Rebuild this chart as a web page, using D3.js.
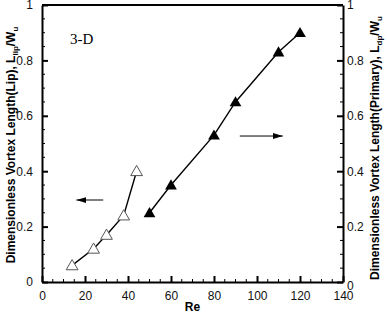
<!DOCTYPE html>
<html>
<head>
<meta charset="utf-8">
<script src="https://d3js.org/d3.v7.min.js"></script>
<style>
  body { margin: 0; background: #fff; }
  text { font-family: "Liberation Sans", Arial, sans-serif; }
  .axis path { stroke: #000; stroke-width: 2; }
  .axis line { stroke: #000; }
  .axis text { font-size: 12px; fill: #111; }
</style>
</head>
<body>
<svg id="chart" width="387" height="315"></svg>
<script>
// lip vortex (open triangles, left axis)
var lipRe = [14, 24, 30, 38, 44];
var lipLen = [0.06, 0.12, 0.17, 0.24, 0.40];
// primary vortex (filled triangles, right axis)
var priRe = [50, 60, 80, 90, 110, 120];
var priLen = [0.25, 0.35, 0.53, 0.65, 0.83, 0.90];

var xTicks = [0, 20, 40, 60, 80, 100, 120, 140];
var yTicks = [0, 0.2, 0.4, 0.6, 0.8, 1];

var svg = d3.select("#chart");
var pL = 42, pR = 343, pT = 5, pB = 282;

var x = d3.scaleLinear().domain([0, 140]).range([pL, pR]);
var yL = d3.scaleLinear().domain([0, 1]).range([pB, pT]);
var yR = d3.scaleLinear().domain([0, 1]).range([pB, pT]);

var fmt = function(d) { return d3.format("~g")(d); };

// minor ticks
var minorX = d3.range(0, 141, 5).filter(function(d) { return d % 20 !== 0; });
var minorY = d3.range(0, 1.001, 0.05).filter(function(d) { return Math.abs(d * 5 - Math.round(d * 5)) > 1e-6; });

var g = svg.append("g");
g.selectAll(".mx").data(minorX).enter().append("line")
  .attr("x1", function(d) { return x(d); }).attr("x2", function(d) { return x(d); })
  .attr("y1", pB).attr("y2", pB - 3).attr("stroke", "#000");
g.selectAll(".myl").data(minorY).enter().append("line")
  .attr("x1", pL).attr("x2", pL + 3)
  .attr("y1", function(d) { return yL(d); }).attr("y2", function(d) { return yL(d); })
  .attr("stroke", "#000");
g.selectAll(".myr").data(minorY).enter().append("line")
  .attr("x1", pR).attr("x2", pR - 3)
  .attr("y1", function(d) { return yR(d); }).attr("y2", function(d) { return yR(d); })
  .attr("stroke", "#000");

// top border
svg.append("line").attr("x1", pL).attr("x2", pR).attr("y1", pT).attr("y2", pT)
  .attr("stroke", "#000").attr("stroke-width", 2);

svg.append("g").attr("class", "axis")
  .attr("transform", "translate(0," + pB + ")")
  .call(d3.axisBottom(x).tickValues(xTicks).tickFormat(fmt).tickSizeInner(-6).tickSizeOuter(0).tickPadding(9))
  .selectAll("line").attr("stroke-width", 2);

svg.append("g").attr("class", "axis")
  .attr("transform", "translate(" + pL + ",0)")
  .call(d3.axisLeft(yL).tickValues(yTicks).tickFormat(fmt).tickSizeInner(-6).tickSizeOuter(0).tickPadding(9))
  .selectAll("line").attr("stroke-width", 2);

var axR = svg.append("g").attr("class", "axis")
  .attr("transform", "translate(" + pR + ",0)")
  .call(d3.axisRight(yR).tickValues(yTicks).tickFormat(fmt).tickSizeInner(-6).tickSizeOuter(0).tickPadding(4));
axR.selectAll("line").attr("stroke-width", 2);
axR.selectAll("text").filter(function(d) { return d === 0; }).attr("dy", "0.6em");

// lines
var lipData = lipRe.map(function(d, i) { return [d, lipLen[i]]; });
var priData = priRe.map(function(d, i) { return [d, priLen[i]]; });

var lineL = d3.line().x(function(d) { return x(d[0]); }).y(function(d) { return yL(d[1]); });
var lineR = d3.line().x(function(d) { return x(d[0]); }).y(function(d) { return yR(d[1]); });

svg.append("path").datum(lipData).attr("d", lineL)
  .attr("fill", "none").attr("stroke", "#000").attr("stroke-width", 1.4);
svg.append("path").datum(priData).attr("d", lineR)
  .attr("fill", "none").attr("stroke", "#000").attr("stroke-width", 1.4);

var tri = d3.symbol().type(d3.symbolTriangle).size(60);

svg.selectAll(".lip").data(lipData).enter().append("path")
  .attr("d", tri)
  .attr("transform", function(d) { return "translate(" + x(d[0]) + "," + (yL(d[1]) + 1) + ")"; })
  .attr("fill", "#fff").attr("stroke", "#555").attr("stroke-width", 1);

svg.selectAll(".pri").data(priData).enter().append("path")
  .attr("d", tri)
  .attr("transform", function(d) { return "translate(" + x(d[0]) + "," + (yR(d[1]) + 1) + ")"; })
  .attr("fill", "#000");

// arrows
var defs = svg.append("defs");
defs.append("marker").attr("id", "ah").attr("viewBox", "0 0 10 6")
  .attr("refX", 10).attr("refY", 3).attr("markerWidth", 10).attr("markerHeight", 6)
  .attr("markerUnits", "userSpaceOnUse").attr("orient", "auto")
  .append("path").attr("d", "M0,0L10,3L0,6Z").attr("fill", "#000");

svg.append("line").attr("x1", x(28.5)).attr("x2", x(16)).attr("y1", yL(0.296)).attr("y2", yL(0.296))
  .attr("stroke", "#000").attr("stroke-width", 1).attr("marker-end", "url(#ah)");
svg.append("line").attr("x1", x(92)).attr("x2", x(112)).attr("y1", yR(0.527)).attr("y2", yR(0.527))
  .attr("stroke", "#000").attr("stroke-width", 1).attr("marker-end", "url(#ah)");

// label
svg.append("text").attr("x", x(13)).attr("y", yL(0.86))
  .style("font-family", "'Liberation Serif', 'Times New Roman', serif").style("font-size", "15px")
  .text("3-D");

// axis titles
svg.append("text").attr("x", (pL + pR) / 2).attr("y", 311)
  .attr("text-anchor", "middle").style("font-weight", "bold").style("font-size", "12px").text("Re");

var tl = svg.append("text").attr("transform", "translate(15," + 145 + ") rotate(-90)")
  .attr("text-anchor", "middle").style("font-weight", "bold").style("font-size", "12px");
tl.append("tspan").text("Dimensionless Vortex Length(Lip), L");
tl.append("tspan").attr("dy", 3).style("font-size", "8px").text("lip");
tl.append("tspan").attr("dy", -3).text("/W");
tl.append("tspan").attr("dy", 3).style("font-size", "8px").text("u");

var tr = svg.append("text").attr("transform", "translate(379," + 148 + ") rotate(-90)")
  .attr("text-anchor", "middle").style("font-weight", "bold").style("font-size", "12px");
tr.append("tspan").text("Dimensionless Vortex Length(Primary), L");
tr.append("tspan").attr("dy", 3).style("font-size", "8px").text("dp");
tr.append("tspan").attr("dy", -3).text("/W");
tr.append("tspan").attr("dy", 3).style("font-size", "8px").text("u");
</script>
</body>
</html>
